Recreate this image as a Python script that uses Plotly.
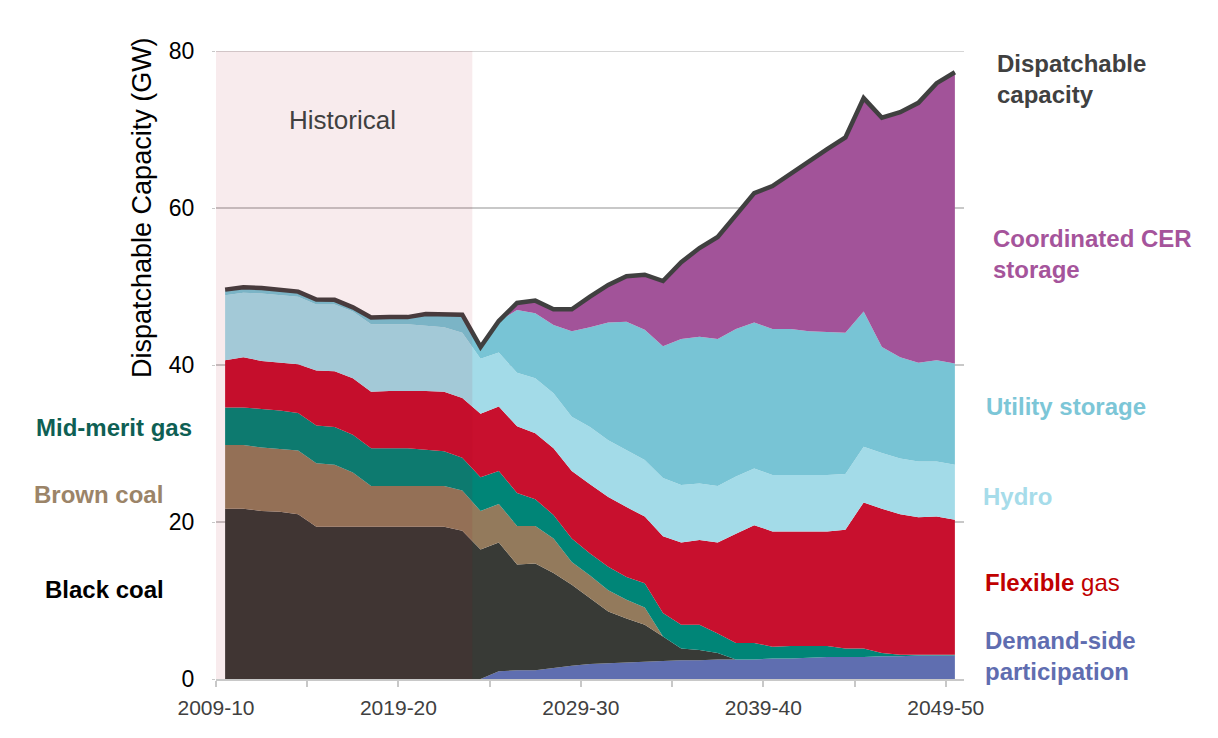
import plotly.graph_objects as go

# fiscal years 2009-10 .. 2049-50
years = [f"{y}-{str(y + 1)[-2:]}" for y in range(2009, 2050)]
idx = list(range(len(years)))

# GW by technology (bottom of the stack first)
demand_side = [0, 0, 0, 0, 0, 0, 0, 0, 0, 0, 0, 0, 0, 0,
               0, 1.0, 1.1, 1.1, 1.4, 1.7, 1.9, 2.0, 2.1, 2.2, 2.3, 2.4, 2.4, 2.5,
               2.5, 2.5, 2.6, 2.6, 2.7, 2.8, 2.8, 2.8, 2.9, 2.9, 3.0, 3.0, 3.0]
black_coal = [21.7, 21.7, 21.4, 21.3, 21.0, 19.4, 19.4, 19.4, 19.4, 19.4, 19.4, 19.4, 19.4, 18.9,
              16.5, 16.4, 13.5, 13.6, 12.1, 10.3, 8.4, 6.6, 5.6, 4.7, 3.1, 1.5, 1.3, 0.8,
              0, 0, 0, 0, 0, 0, 0, 0, 0, 0, 0, 0, 0]
brown_coal = [8.1, 8.1, 8.1, 8.0, 8.1, 8.1, 7.9, 6.9, 5.2, 5.2, 5.2, 5.2, 5.2, 5.1,
              4.9, 4.9, 4.9, 4.8, 4.4, 2.9, 2.9, 2.7, 2.4, 2.2, 0, 0, 0, 0,
              0, 0, 0, 0, 0, 0, 0, 0, 0, 0, 0, 0, 0]
mid_merit_gas = [4.8, 4.8, 4.9, 4.9, 4.8, 4.8, 4.8, 4.8, 4.8, 4.8, 4.8, 4.6, 4.4, 4.2,
                 4.3, 4.2, 4.2, 3.4, 3.0, 3.0, 2.8, 3.0, 2.9, 3.1, 3.0, 3.0, 3.2, 2.5,
                 2.1, 2.1, 1.5, 1.6, 1.5, 1.4, 1.1, 1.1, 0.4, 0.2, 0.1, 0.1, 0.1]
flexible_gas = [6.0, 6.4, 6.1, 6.1, 6.2, 7.0, 7.1, 7.2, 7.2, 7.3, 7.3, 7.5, 7.6, 7.6,
                8.1, 8.2, 8.5, 8.4, 8.5, 8.6, 8.8, 8.9, 8.9, 8.5, 9.8, 10.5, 10.8, 11.6,
                13.9, 15.0, 14.7, 14.6, 14.6, 14.6, 15.1, 18.6, 18.4, 17.9, 17.5, 17.6, 17.2]
hydro = [8.3, 8.2, 8.6, 8.6, 8.6, 8.4, 8.5, 8.5, 8.6, 8.5, 8.5, 8.3, 8.2, 8.3,
         7.0, 6.9, 6.8, 7.0, 7.0, 6.9, 7.3, 7.2, 7.2, 7.2, 7.4, 7.3, 7.2, 7.2,
         7.3, 7.2, 7.2, 7.2, 7.2, 7.2, 7.1, 7.1, 7.1, 7.1, 7.1, 7.0, 7.0]
utility_storage = [0.7, 0.7, 0.7, 0.7, 0.65, 0.65, 0.6, 0.55, 0.85, 0.9, 0.9, 1.5, 1.7, 2.3,
                   1.5, 4.0, 8.0, 8.3, 8.7, 10.9, 12.7, 15.0, 16.4, 16.6, 16.8, 18.6, 18.7, 18.7,
                   18.8, 18.6, 18.6, 18.6, 18.3, 18.2, 18.0, 17.2, 13.5, 12.9, 12.6, 12.9, 12.9]
cer_storage = [0, 0, 0, 0, 0, 0, 0, 0, 0, 0, 0, 0, 0, 0,
               0, 0, 0.9, 1.6, 2.0, 2.8, 3.9, 4.8, 5.8, 7.0, 8.3, 9.8, 11.3, 13.0,
               14.5, 16.5, 18.2, 19.8, 21.6, 23.3, 24.9, 27.2, 29.2, 31.2, 33.1, 35.3, 37.1]

series = [
    ('Demand-side participation', demand_side, '#5f6eb0'),
    ('Black coal', black_coal, '#383a36'),
    ('Brown coal', brown_coal, '#937a5c'),
    ('Mid-merit gas', mid_merit_gas, '#008577'),
    ('Flexible gas', flexible_gas, '#c8102e'),
    ('Hydro', hydro, '#a3dbe8'),
    ('Utility storage', utility_storage, '#78c4d5'),
    ('Coordinated CER storage', cer_storage, '#a25399'),
]

# dispatchable capacity = sum of the stack
total = [round(sum(vals), 2) for vals in zip(*[s[1] for s in series])]

fig = go.Figure()
for name, vals, col in series:
    fig.add_trace(go.Scatter(x=idx, y=vals, name=name, stackgroup='one', mode='lines',
                             line=dict(width=0, color=col), fillcolor=col,
                             text=years, hoverinfo='text+y+name'))

fig.add_trace(go.Scatter(x=idx, y=total, name='Dispatchable capacity', mode='lines',
                         line=dict(color='#404040', width=4.5), text=years,
                         hoverinfo='text+y+name'))

# top gridline (plotly drops the one on the range edge)
fig.add_shape(type='line', xref='x', yref='y', x0=-0.5, x1=40.5, y0=80, y1=80,
              line=dict(color='#c8c8c8', width=1.5), layer='below')

# historical period tint (sits over the areas)
fig.add_shape(type='rect', xref='x', yref='y', x0=-0.5, x1=13.55, y0=0, y1=80,
              fillcolor='rgba(170,0,30,0.08)', line=dict(width=0), layer='above')

# page body has an 8px margin, so the figure starts at (8, 8) on screen
OFF = 8
W, H = 1218 - OFF, 738 - OFF
# plot area in screen pixels
L, R, T, B = 216, 964, 51, 679
def px(x):
    return (x - L) / (R - L)
def py(y):
    return (B - y) / (B - T)

FONT = 'Liberation Sans, Arial, sans-serif'
labels = [
    ('<b>Dispatchable<br>capacity</b>', 995, 79, '#404040'),
    ('<b>Coordinated CER<br>storage</b>', 991, 254, '#a5549b'),
    ('<b>Utility storage</b>', 984, 406, '#7cc6d7'),
    ('<b>Hydro</b>', 981, 497, '#a6dcea'),
    ('<b>Flexible</b> gas', 983, 582, '#c00000'),
    ('<b>Demand-side<br>participation</b>', 983, 656, '#5f6db0'),
    ('<b>Mid-merit gas</b>', 34, 427, '#0e5f54'),
    ('<b>Brown coal</b>', 32, 494, '#9b8468'),
    ('<b>Black coal</b>', 43, 589, '#000000'),
]
for txt, x, y, col in labels:
    fig.add_annotation(text=txt, x=px(x), y=py(y), xref='paper', yref='paper',
                       xanchor='left', yanchor='middle', align='left', showarrow=False,
                       font=dict(family=FONT, size=24, color=col))

fig.add_annotation(text='Historical', x=px(342), y=py(120), xref='paper', yref='paper',
                   xanchor='center', yanchor='middle', showarrow=False,
                   font=dict(family=FONT, size=26, color='#404040'))

fig.add_annotation(text='Dispatchable Capacity (GW)', x=px(142), y=py(208),
                   xref='paper', yref='paper', textangle=-90, showarrow=False,
                   xanchor='center', yanchor='middle',
                   font=dict(family=FONT, size=27, color='#000000'))

tick_pos = [i - 0.5 for i in range(0, 41, 5)]
tick_txt = [years[i] if i % 10 == 0 else '' for i in range(0, 41, 5)]

fig.update_xaxes(range=[-0.5, 40.5], tickvals=tick_pos, ticktext=tick_txt,
                 ticks='outside', ticklen=6, tickcolor='#c8c8c8', tickwidth=1.5,
                 showline=True, linecolor='#c8c8c8', linewidth=1.5, showgrid=False,
                 zeroline=False, ticklabelstandoff=3,
                 tickfont=dict(family=FONT, size=21, color='#404040'))
fig.update_yaxes(range=[0, 80], tickvals=[0, 20, 40, 60, 80], showgrid=True,
                 gridcolor='#c8c8c8', gridwidth=1.5, zeroline=False, showline=False,
                 ticks='outside', ticklen=3, tickcolor='#c8c8c8', ticklabelstandoff=13,
                 tickfont=dict(family=FONT, size=23, color='#000000'))

fig.update_layout(
    width=W, height=H,
    margin=dict(l=L - OFF, r=W - (R - OFF), t=T - OFF, b=H - (B - OFF)),
    plot_bgcolor='white', paper_bgcolor='white',
    showlegend=False,
    font=dict(family=FONT),
)

fig.write_html("out.html")
